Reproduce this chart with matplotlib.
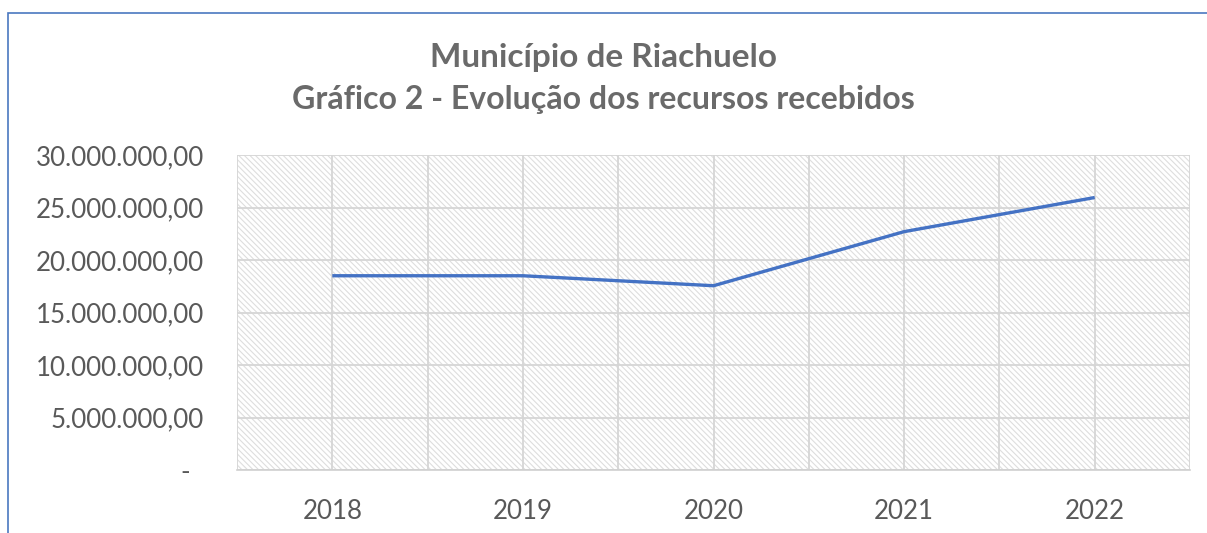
import matplotlib
matplotlib.use("Agg")
import matplotlib.pyplot as plt
from matplotlib.patches import Rectangle
from matplotlib.ticker import FixedLocator

years = ["2018", "2019", "2020", "2021", "2022"]
values = [18500000, 18500000, 17550000, 22700000, 25950000]
yticks = [0, 5000000, 10000000, 15000000, 20000000, 25000000, 30000000]
ytick_labels = ["-  ", "5.000.000,00", "10.000.000,00", "15.000.000,00",
                "20.000.000,00", "25.000.000,00", "30.000.000,00"]
title1 = "Município de Riachuelo"
title2 = "Gráfico 2 - Evolução dos recursos recebidos"

plt.rcParams['font.family'] = ['Lato', 'DejaVu Sans']
plt.rcParams['hatch.linewidth'] = 0.8

W, H = 1207, 533
fig = plt.figure(figsize=(W/100, H/100), dpi=100)
fig.patch.set_facecolor('white')

# outer frame (top/left visible)
fig.add_artist(Rectangle((8/W, -0.1), 1.2, (H-13)/H + 0.1, transform=fig.transFigure,
                         fill=False, edgecolor='#4a78c0', linewidth=1.2))

ax = fig.add_axes([237/W, 1-470/H, (1190-237)/W, (470-155)/H])
ax.set_facecolor('white')
ax.add_patch(Rectangle((0, 0), 1, 1, transform=ax.transAxes, facecolor='white',
                       edgecolor='#dedede', linewidth=0, hatch='\\\\\\\\\\\\', zorder=0))

x = list(range(len(years)))
ax.plot(x, values, color='#4472C4', linewidth=2.4, zorder=3, solid_capstyle='butt')

ax.set_xlim(-0.5, len(years) - 0.5)
ax.set_ylim(0, 30000000)
ax.set_xticks(x)
ax.set_xticklabels(years)
ax.xaxis.set_minor_locator(FixedLocator([i + 0.5 for i in range(-1, len(years))]))
ax.set_yticks(yticks)
ax.set_yticklabels(ytick_labels)

ax.grid(True, which='major', color='#d6d6d6', linewidth=1.3, zorder=1)
ax.grid(True, which='minor', axis='x', color='#d6d6d6', linewidth=1.3, zorder=1)
ax.set_axisbelow(True)

for s in ['top', 'right', 'left']:
    ax.spines[s].set_visible(False)
ax.spines['bottom'].set_color('#d0d0d0')
ax.spines['bottom'].set_linewidth(1.2)

ax.tick_params(axis='both', which='both', length=0, colors='#595959')
ax.tick_params(axis='y', which='major', labelsize=18.6, pad=24)
ax.tick_params(axis='x', which='major', labelsize=18.6, pad=21)

fig.text(0.5, 1-57/H, title1, ha='center', va='center', fontsize=24,
         fontweight='bold', color='#6a6a6a')
fig.text(0.5, 1-100/H, title2, ha='center', va='center', fontsize=23,
         fontweight='bold', color='#6a6a6a')

fig.savefig('out.png', dpi=100, facecolor='white')
